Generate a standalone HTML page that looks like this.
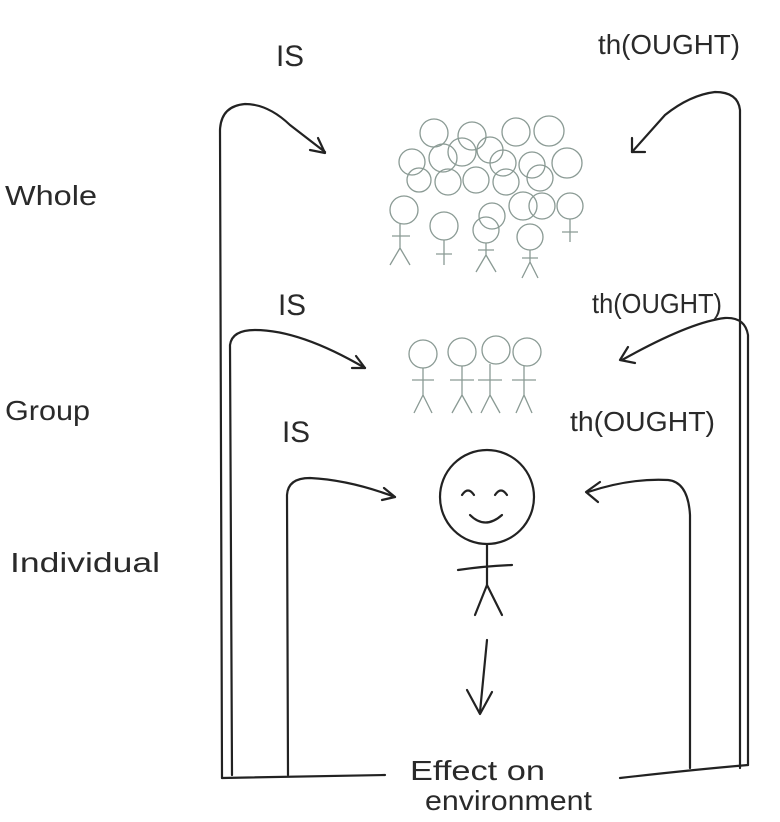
<!DOCTYPE html>
<html><head><meta charset="utf-8"><style>
html,body{margin:0;padding:0;background:#fff;}
svg{display:block}
text{font-family:"Liberation Sans",sans-serif;fill:#2a2a2a;}
</style></head><body>
<svg width="780" height="822" viewBox="0 0 780 822" xmlns="http://www.w3.org/2000/svg">
<g fill="none" stroke="#222" stroke-width="2.2" stroke-linecap="round" stroke-linejoin="round">
<path d="M222 778 L220 130 Q221 106 245 104 Q268 104 290 125 L325 152"/>
<path d="M310 150 L325 153 L318 138"/>
<path d="M222 778 L385 775"/>
<path d="M232 775 L230 345 Q232 330 255 330 Q300 330 365 368"/>
<path d="M352 368 L365 368 L356 356"/>
<path d="M288 775 L287 495 Q288 478 310 478 Q350 480 395 497"/>
<path d="M382 500 L395 497 L384 488"/>
<path d="M740 768 L740 110 Q738 92 715 92 Q690 95 665 115 L632 152"/>
<path d="M632 138 L632 152 L645 152"/>
<path d="M748 765 L748 335 Q745 317 725 318 Q690 322 622 360"/>
<path d="M628 347 L620 360 L635 363"/>
<path d="M620 778 Q690 770 748 765"/>
<path d="M690 768 L690 515 Q688 482 668 480 Q630 478 588 492"/>
<path d="M600 482 L586 492 L598 502"/>
<circle cx="487" cy="497" r="47"/>
<path d="M462 495 Q468 486 474 495"/>
<path d="M495 495 Q501 486 507 495"/>
<path d="M470 515 Q485 530 502 515"/>
<path d="M487 545 L487 585"/>
<path d="M458 570 Q485 566 512 565"/>
<path d="M487 585 L475 615 M487 585 L502 615"/>
<path d="M487 640 L480 712"/>
<path d="M467 690 L480 714 L492 692"/>
</g>
<g fill="none" stroke="#8a9a94" stroke-width="1.3">
<circle cx="434" cy="133" r="14"/><circle cx="472" cy="136" r="14"/><circle cx="516" cy="132" r="14"/><circle cx="549" cy="131" r="15"/>
<circle cx="412" cy="162" r="13"/><circle cx="443" cy="158" r="14"/><circle cx="462" cy="152" r="14"/><circle cx="490" cy="150" r="13"/><circle cx="503" cy="163" r="13"/><circle cx="532" cy="165" r="13"/><circle cx="567" cy="163" r="15"/>
<circle cx="419" cy="180" r="12"/><circle cx="448" cy="182" r="13"/><circle cx="476" cy="180" r="13"/><circle cx="506" cy="182" r="13"/><circle cx="540" cy="178" r="13"/>
<circle cx="404" cy="210" r="14"/><circle cx="444" cy="226" r="14"/><circle cx="492" cy="216" r="13"/><circle cx="523" cy="206" r="14"/><circle cx="542" cy="206" r="13"/><circle cx="570" cy="206" r="13"/><circle cx="486" cy="230" r="13"/><circle cx="530" cy="237" r="13"/>
<path d="M400 224 L400 248 M392 236 L410 236 M400 248 L390 265 M400 248 L410 265"/>
<path d="M444 240 L444 265 M436 254 L452 254"/>
<path d="M486 243 L486 255 M478 250 L494 250 M486 255 L476 272 M486 255 L496 272"/>
<path d="M530 250 L530 262 M522 258 L538 258 M530 262 L522 278 M530 262 L538 278"/>
<path d="M570 219 L570 242 M562 232 L578 232"/>
<circle cx="423" cy="354" r="14"/><circle cx="462" cy="352" r="14"/><circle cx="496" cy="350" r="14"/><circle cx="527" cy="352" r="14"/>
<path d="M423 368 L423 395 M412 380 L434 380 M423 395 L414 413 M423 395 L432 413"/>
<path d="M462 366 L462 395 M450 380 L474 380 M462 395 L452 413 M462 395 L472 413"/>
<path d="M490 364 L490 395 M478 380 L502 380 M490 395 L481 413 M490 395 L500 413"/>
<path d="M524 366 L524 395 M512 380 L536 380 M524 395 L516 413 M524 395 L532 413"/>
</g>
<g lengthAdjust="spacingAndGlyphs">
<text x="276" y="66" font-size="30" textLength="28" lengthAdjust="spacingAndGlyphs">IS</text>
<text x="598" y="54" font-size="28" textLength="142" lengthAdjust="spacingAndGlyphs">th(OUGHT)</text>
<text x="5" y="205" font-size="28" textLength="92" lengthAdjust="spacingAndGlyphs">Whole</text>
<text x="278" y="315" font-size="30" textLength="28" lengthAdjust="spacingAndGlyphs">IS</text>
<text x="592" y="313" font-size="28" textLength="130" lengthAdjust="spacingAndGlyphs">th(OUGHT)</text>
<text x="5" y="420" font-size="28" textLength="85" lengthAdjust="spacingAndGlyphs">Group</text>
<text x="282" y="442" font-size="30" textLength="28" lengthAdjust="spacingAndGlyphs">IS</text>
<text x="570" y="431" font-size="28" textLength="145" lengthAdjust="spacingAndGlyphs">th(OUGHT)</text>
<text x="10" y="572" font-size="28" textLength="150" lengthAdjust="spacingAndGlyphs">Individual</text>
<text x="410" y="780" font-size="28" textLength="135" lengthAdjust="spacingAndGlyphs">Effect on</text>
<text x="425" y="810" font-size="28" textLength="167" lengthAdjust="spacingAndGlyphs">environment</text>
</g>
</svg>
</body></html>
